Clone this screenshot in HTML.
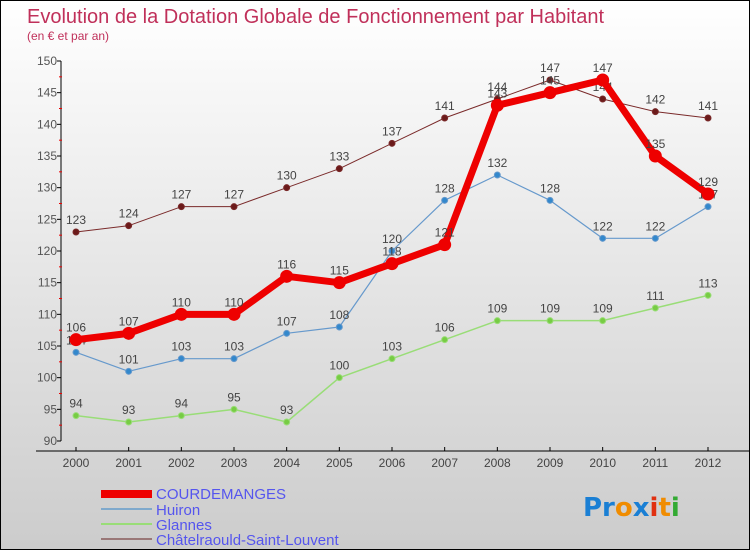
<!DOCTYPE html>
<html><head><meta charset="utf-8"><style>
body{margin:0}
#c{position:relative;width:748px;height:548px;border:1px solid #000;background:linear-gradient(#fff,#ccc);font-family:"Liberation Sans",sans-serif;overflow:hidden}
</style></head><body>
<div id="c">
<svg id="s" width="748" height="548" style="position:absolute;left:0;top:0">
<text x="26" y="22" font-size="20" fill="#c0305a">Evolution de la Dotation Globale de Fonctionnement par Habitant</text>
<text x="26" y="39" font-size="12" fill="#c0305a">(en € et par an)</text>
<g id="ax"></g><g id="ser"></g>
<g font-size="15" fill="#5555ee">
<rect x="100" y="489" width="51" height="8" fill="#e00"/>
<text x="155" y="498">COURDEMANGES</text>
<rect x="100" y="507" width="51" height="2" fill="#7fa9cc"/>
<text x="155" y="514">Huiron</text>
<rect x="100" y="522" width="51" height="2" fill="#99dd77"/>
<text x="155" y="529">Glannes</text>
<rect x="100" y="537" width="51" height="2" fill="#997777"/>
<text x="155" y="544">Châtelraould-Saint-Louvent</text>
</g>
<g font-size="26" font-family="DejaVu Sans" font-weight="bold">
<text x="582" y="515"><tspan fill="#1a7fd4">Pr</tspan><tspan fill="#f08c00">o</tspan><tspan fill="#1a7fd4">x</tspan><tspan fill="#e03010">i</tspan><tspan fill="#f08c00">t</tspan><tspan fill="#33aa33">i</tspan></text>
</g>
</svg>
</div>
<script>
const years=[2000,2001,2002,2003,2004,2005,2006,2007,2008,2009,2010,2011,2012];
const courdemanges=[106,107,110,110,116,115,118,121,143,145,147,135,129];
const huiron=[104,101,103,103,107,108,120,128,132,128,122,122,127];
const glannes=[94,93,94,95,93,100,103,106,109,109,109,111,113];
const chatel=[123,124,127,127,130,133,137,141,144,147,144,142,141];
const yTicks=[90,95,100,105,110,115,120,125,130,135,140,145,150];
const NS="http://www.w3.org/2000/svg";
const x=i=>75+i*(707-75)/12;
const y=v=>440-(v-90)*(380/60);
function mk(t,a,p){const e=document.createElementNS(NS,t);for(const k in a)e.setAttribute(k,a[k]);p.appendChild(e);return e;}
const ax=document.getElementById('ax');
const yl=mk('line',{x1:60,y1:60,x2:60,y2:440,stroke:'#000'},ax);

const xl=mk('line',{x1:35,y1:450,x2:748,y2:450,stroke:'#000'},ax);

yTicks.forEach(v=>{mk('line',{x1:56,y1:y(v),x2:60,y2:y(v),stroke:'#000'},ax);
 const t=mk('text',{x:56,y:y(v)+4,'text-anchor':'end','font-size':12,fill:'#555'},ax);t.textContent=v;
 
 if(v<150)mk('line',{x1:58,y1:y(v+2.5),x2:61,y2:y(v+2.5),stroke:'#e00'},ax);});
years.forEach((yr,i)=>{mk('line',{x1:x(i),y1:446,x2:x(i),y2:450,stroke:'#000'},ax);
 const t=mk('text',{x:x(i),y:466,'text-anchor':'middle','font-size':12,fill:'#444'},ax);t.textContent=yr;
 });
const ser=document.getElementById('ser');
function draw(data,name,col,dot,w,r){const g=mk('g',{},ser);
 
 mk('polyline',{points:data.map((v,i)=>x(i)+','+y(v)).join(' '),fill:'none',stroke:col,'stroke-width':w,'stroke-linejoin':'round'},g);
 data.forEach((v,i)=>{const c=mk('circle',{cx:x(i),cy:y(v),r:r,fill:dot,stroke:col,'stroke-width':1},g);
  
  const t=mk('text',{x:x(i),y:y(v)-8,'text-anchor':'middle','font-size':12,fill:'#444'},g);t.textContent=v;
  });}
draw(chatel,'chatelraould','#7a2a2a','#6b1a1a',1,3);
draw(glannes,'glannes','#99dd77','#77cc44',1.5,3);
draw(huiron,'huiron','#6699cc','#3388cc',1.2,3);
draw(courdemanges,'courdemanges','#ee0000','#ee0000',7,6);
</script>
</body></html>
